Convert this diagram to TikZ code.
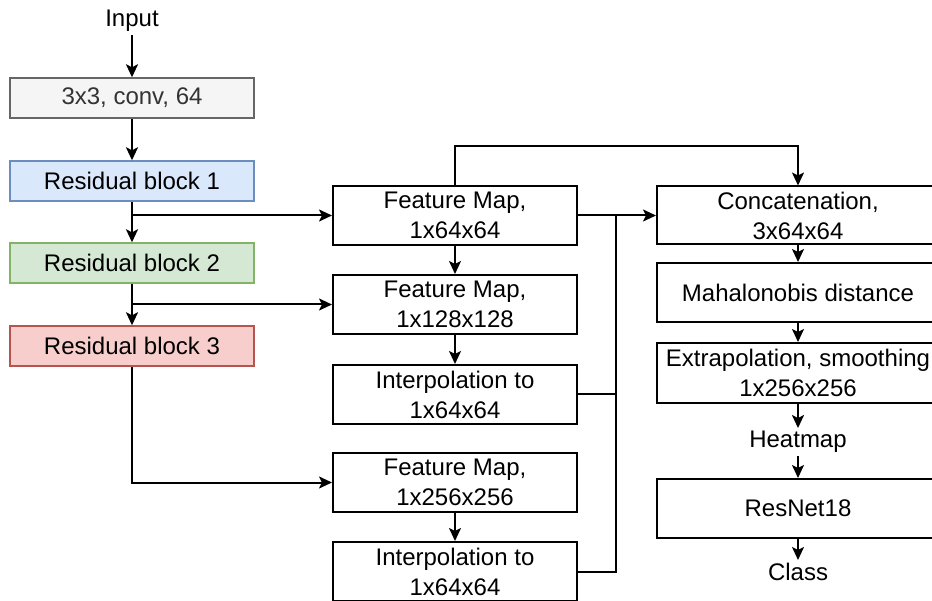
\documentclass[tikz,border=0pt]{standalone}
\usepackage{fontspec}
\setmainfont{Liberation Sans}
\usetikzlibrary{arrows.meta}
\definecolor{convfill}{HTML}{F5F5F5}
\definecolor{convdraw}{HTML}{666666}
\definecolor{convtext}{HTML}{333333}
\definecolor{bluefill}{HTML}{DAE8FC}
\definecolor{bluedraw}{HTML}{6C8EBF}
\definecolor{greenfill}{HTML}{D5E8D4}
\definecolor{greendraw}{HTML}{82B366}
\definecolor{redfill}{HTML}{F8CECC}
\definecolor{reddraw}{HTML}{B85450}
\begin{document}
\begin{tikzpicture}[x=1pt,y=-1pt,
  font=\fontsize{24}{30}\selectfont,
  box/.style={draw, line width=2pt, minimum width=244pt, minimum height=59pt, align=center, inner sep=0pt},
  rbox/.style={box, minimum width=282pt},
  lbox/.style={draw, line width=1.4pt, minimum width=244pt, minimum height=40pt, inner sep=0pt},
  txt/.style={inner sep=3pt},
  ln/.style={line width=2pt},
  arr/.style={line width=2pt, -{Stealth[length=13pt,width=12pt,inset=3pt]}}]
\useasboundingbox (0,0) rectangle (932,601);

% left column
\node[txt] (input) at (132,21) {Input};
\node[lbox, fill=convfill, draw=convdraw, text=convtext] (conv) at (132,98) {3x3, conv, 64};
\node[lbox, fill=bluefill, draw=bluedraw] (res1) at (132,181) {Residual block 1};
\node[lbox, fill=greenfill, draw=greendraw] (res2) at (132,263) {Residual block 2};
\node[lbox, fill=redfill, draw=reddraw] (res3) at (132,346) {Residual block 3};

% middle column
\node[box] (fm1) at (455,215.5) {Feature Map,\\1x64x64};
\node[box] (fm2) at (455,304.5) {Feature Map,\\1x128x128};
\node[box] (int1) at (455,394.5) {Interpolation to\\1x64x64};
\node[box] (fm3) at (455,482.5) {Feature Map,\\1x256x256};
\node[box] (int2) at (455,571.5) {Interpolation to\\1x64x64};

% right column
\node[rbox, minimum height=58pt] (cat) at (798,215.5) {Concatenation,\\3x64x64};
\node[rbox] (mah) at (798,292.5) {Mahalonobis distance};
\node[rbox, minimum height=60pt] (ext) at (798,373) {Extrapolation, smoothing\\1x256x256};
\node[txt] (heat) at (798,442) {Heatmap};
\node[rbox] (resnet) at (798,508.5) {ResNet18};
\node[txt] (cls) at (798,572) {Class};

\coordinate (mx) at (616,0);
\coordinate (topy) at (0,146);

% left connectors
\draw[arr] (input) -- (conv);
\draw[arr] (conv) -- (res1);
\draw[arr] (res1) -- (res2);
\draw[arr] (res2) -- (res3);
\draw[arr] (res1.south |- fm1.west) -- (fm1.west);
\draw[arr] (res2.south |- fm2.west) -- (fm2.west);
\draw[arr] (res3.south) |- (fm3.west);

% middle connectors
\draw[arr] (fm1) -- (fm2);
\draw[arr] (fm2) -- (int1);
\draw[arr] (fm3) -- (int2);
\draw[arr] (fm1.north) -- (fm1.north |- topy) -| (cat.north);
\draw[arr] (fm1.east) -- (cat.west);
\draw[ln] (int1.east) -- (mx |- int1.east) -- (mx |- fm1.east);
\draw[ln] (int2.east) -- (mx |- int2.east) -- (mx |- int1.east);

% right connectors
\draw[arr] (cat) -- (mah);
\draw[arr] (mah) -- (ext);
\draw[arr] (ext) -- (heat);
\draw[arr] (heat) -- (resnet);
\draw[arr] (resnet) -- (cls);
\end{tikzpicture}
\end{document}
